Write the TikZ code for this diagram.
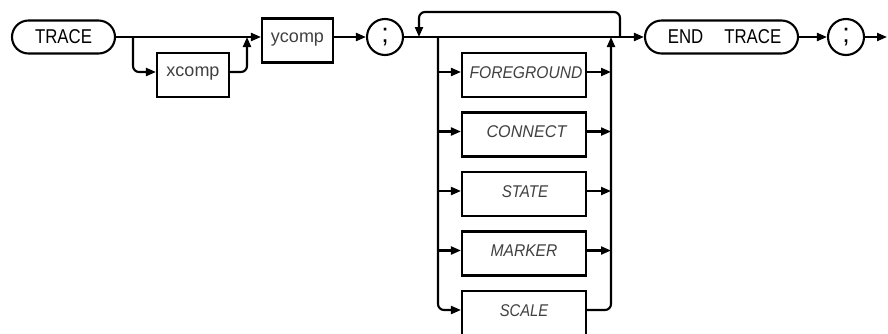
\documentclass[tikz,border=0pt]{standalone}
\usepackage{fontspec}
\setmainfont{Liberation Sans}
\usetikzlibrary{arrows.meta}
\newcommand\hpc[1]{\scalebox{0.84}[1]{#1}}
\newcommand\hpi[2]{\scalebox{#1}[1]{\itshape #2}}
\begin{document}
\begin{tikzpicture}[x=1pt,y=-1pt,
  line width=2.1pt,
  >={Triangle[length=10pt,width=8pt]},
  kw/.style={draw, rounded corners=16.5pt, minimum height=33pt, inner sep=0pt,
    font=\fontsize{20}{20}\selectfont},
  circ/.style={draw, circle, minimum size=36pt, inner sep=0pt,
    font=\fontsize{27}{27}\selectfont},
  opt/.style={draw, rectangle, minimum width=124pt, minimum height=44pt, inner sep=0pt,
    text height=12pt, text depth=6pt, font=\fontsize{17}{17}\selectfont, text=black!75},
  arg/.style={draw, rectangle, minimum height=44pt, inner sep=0pt,
    text height=10pt, text depth=6.7pt, font=\fontsize{18}{18}\selectfont, text=black!75},
  rc/.style={rounded corners=6pt}
]
\useasboundingbox (0,0) rectangle (888,333);

% main nodes
\node[kw, minimum width=103pt] (trace) at (63.5,37) {\hpc{TRACE}};
\node[arg, minimum width=72pt] (xcomp) at (193,75) {xcomp};
\node[arg, minimum width=71pt] (ycomp) at (297.5,40.5) {ycomp};
\node[circ] (semi1) at (385,37) {;};
\node[kw, minimum width=153pt] (endtrace) at (721.5,37) {\hspace{6pt}\hpc{END}\hspace{21pt}\hpc{TRACE}};
\node[circ] (semi2) at (846,37) {;};

% option nodes
\node[opt] (fg) at (524,75) {\hspace{4pt}\hpi{0.92}{FOREGROUND}};
\node[opt] (cn) at (524,134.5) {\hspace{5pt}\hpi{0.95}{CONNECT}};
\node[opt] (st) at (524,194) {\hspace{2pt}\hpi{0.89}{STATE}};
\node[opt] (mk) at (524,253.5) {\hpi{0.92}{MARKER}\hspace{6pt}};
\node[opt] (sc) at (524,313) {\hpi{0.87}{SCALE}\hspace{14pt}};

% coordinates
\coordinate (b1) at (133,37);
\coordinate (xl) at (133,72);
\coordinate (j1) at (247,37);
\coordinate (lp2) at (419,37);
\coordinate (lv) at (438,37);
\coordinate (rv) at (611,37);
\coordinate (lp1) at (620,37);
\coordinate (out) at (887,37);
\coordinate (r1) at (438,72);
\coordinate (r2) at (438,131.5);
\coordinate (r3) at (438,191);
\coordinate (r4) at (438,250.5);
\coordinate (r5) at (438,310);

% first part
\draw[->] (trace.east) -- (trace.east -| ycomp.west);
\draw[->,rc] (b1) -- (xl) -- (xl -| xcomp.west);
\draw[->,rc] (xl -| xcomp.east) -- (xl -| j1) -- (j1);
\draw[->] (semi1.west -| ycomp.east) -- (semi1.west);

% main line through options
\draw[->] (semi1.east) -- (endtrace.west);
\draw[->,rc] (lp1) -- ++(0,-25) -| (lp2);

% left vertical and entries
\draw[->,rc] (lv) -- (r5) -- (r5 -| sc.west);
\draw[->] (r1) -- (r1 -| fg.west);
\draw[->] (r2) -- (r2 -| cn.west);
\draw[->] (r3) -- (r3 -| st.west);
\draw[->] (r4) -- (r4 -| mk.west);

% right exits and vertical
\draw[->] (r1 -| fg.east) -- (r1 -| rv);
\draw[->] (r2 -| cn.east) -- (r2 -| rv);
\draw[->] (r3 -| st.east) -- (r3 -| rv);
\draw[->] (r4 -| mk.east) -- (r4 -| rv);
\draw[->,rc] (r5 -| sc.east) -- (r5 -| rv) -- (rv);

% end
\draw[->] (endtrace.east) -- (semi2.west);
\draw[->] (semi2.east) -- (out);
\end{tikzpicture}
\end{document}
